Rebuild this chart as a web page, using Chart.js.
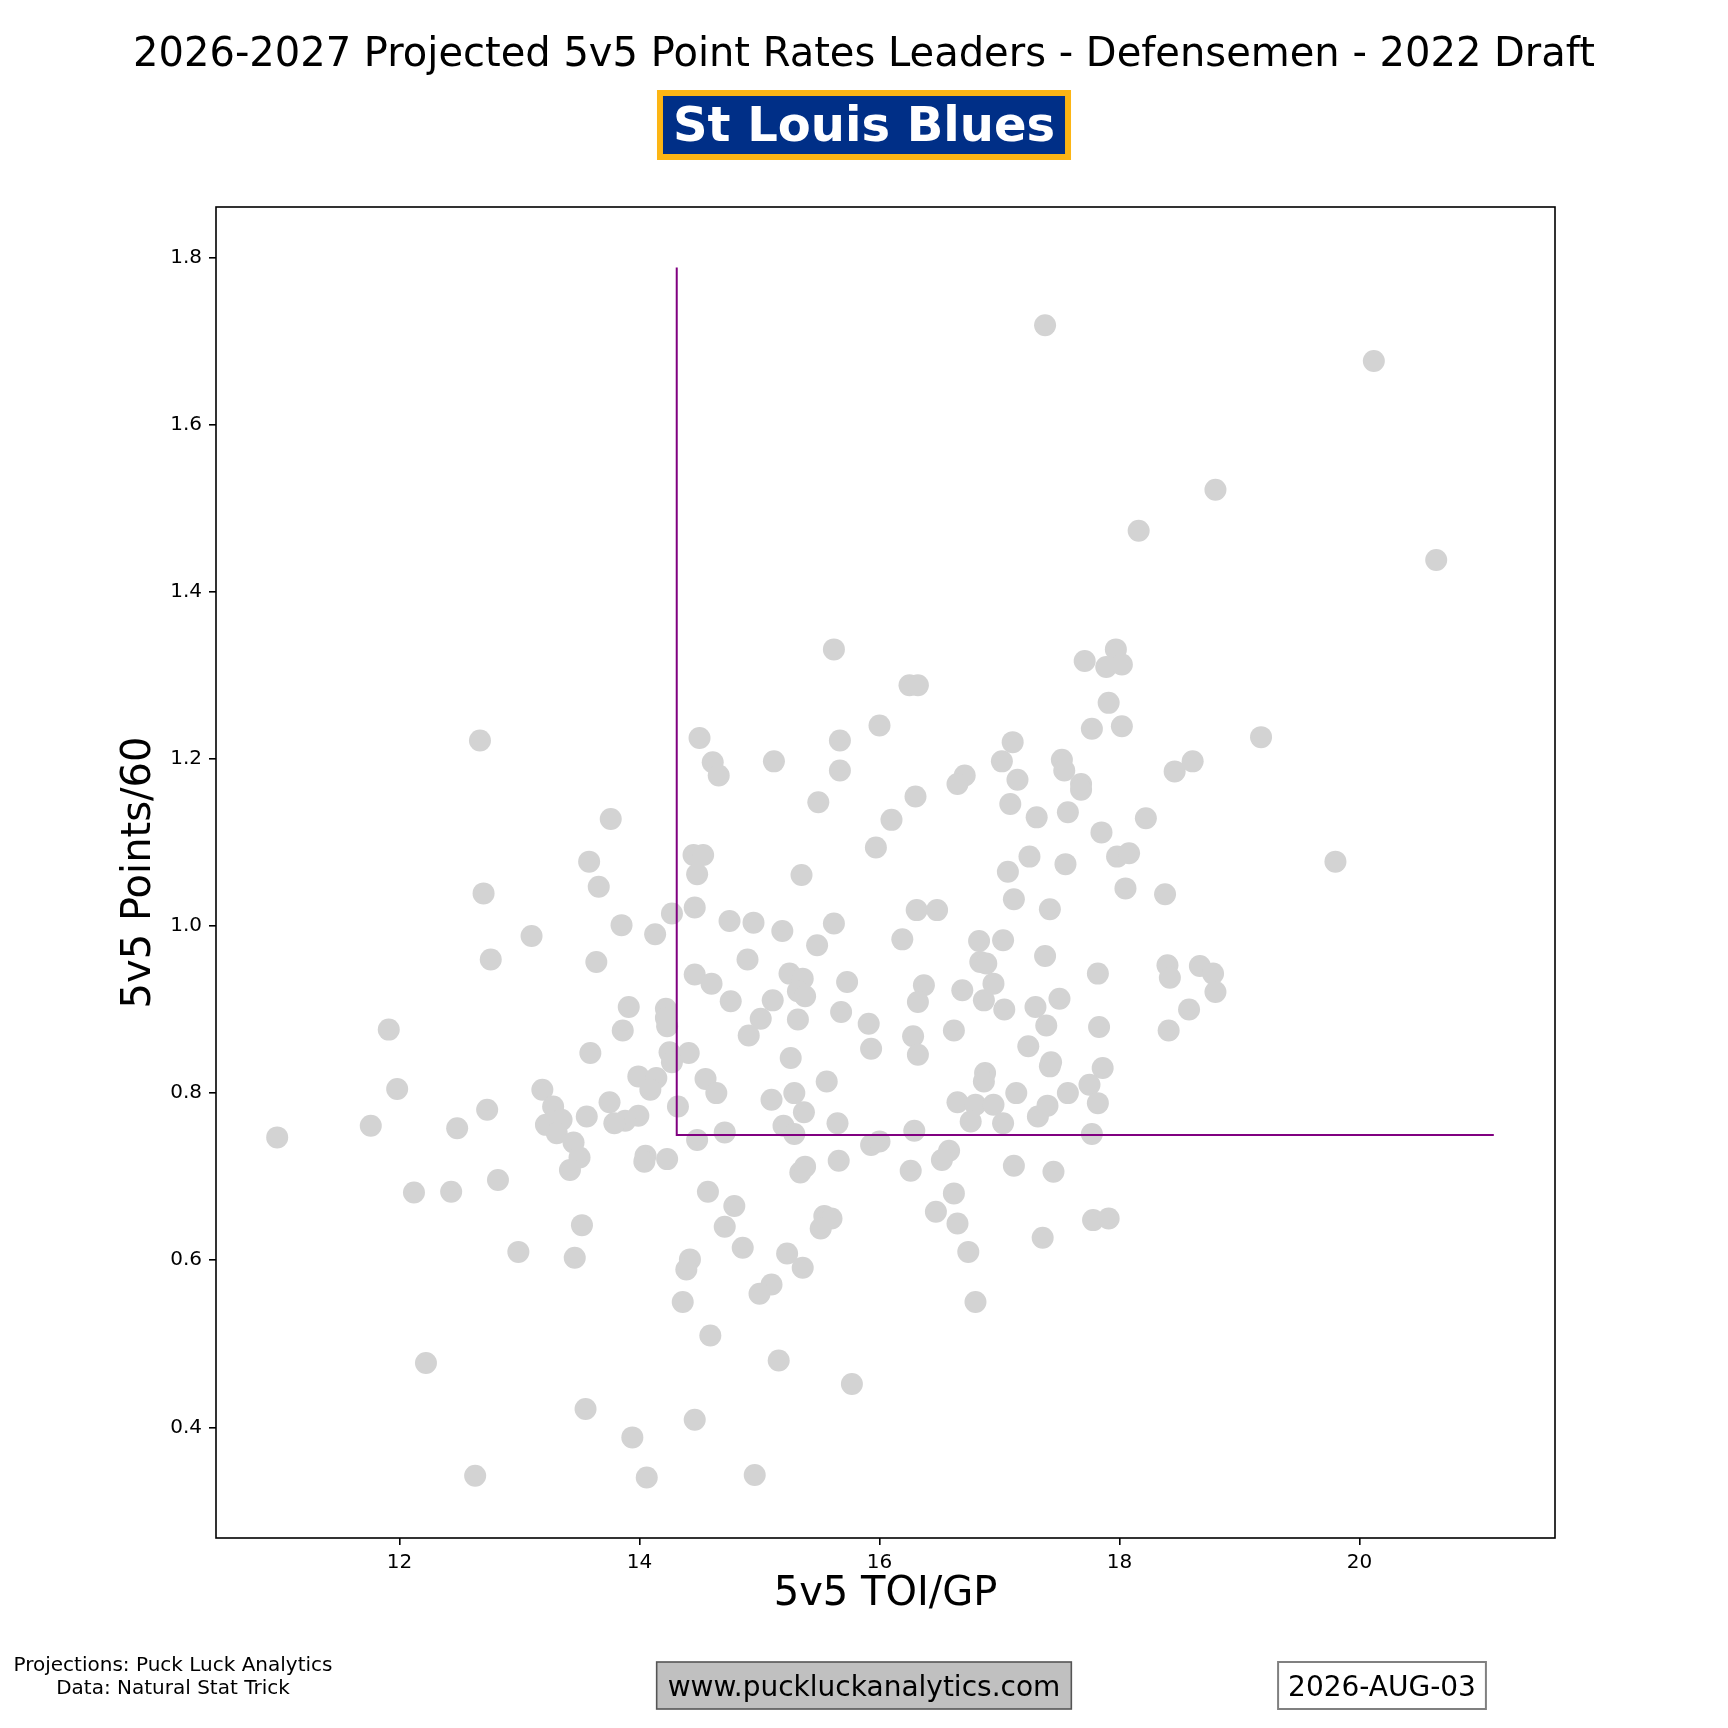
<!DOCTYPE html>
<html>
<head>
<meta charset="utf-8">
<script src="https://cdn.jsdelivr.net/npm/chart.js@4.4.1/dist/chart.umd.min.js"></script>
<style>
html,body{margin:0;padding:0;background:#fff;overflow:hidden}
canvas{display:block}
</style>
</head>
<body>
<canvas id="c" width="1728" height="1728" style="width:1728px;height:1728px"></canvas>
<script>
// ---------- data ----------
const titleText = "2026-2027 Projected 5v5 Point Rates Leaders - Defensemen - 2022 Draft";
const teamName = "St Louis Blues";
const xAxisLabel = "5v5 TOI/GP";
const yAxisLabel = "5v5 Points/60";
const footerLines = ["Projections: Puck Luck Analytics", "Data: Natural Stat Trick"];
const siteText = "www.puckluckanalytics.com";
const dateText = "2026-AUG-03";

const toiPerGP = [
  17.38, 20.12, 18.80, 18.16, 20.64,
  12.67, 13.76, 13.58,
  15.62, 16.25, 16.32, 16.00, 14.50, 14.61, 14.66, 15.12, 15.67, 15.67, 15.49, 16.30,
  16.10, 15.97, 14.45, 14.53, 14.48, 15.35, 16.71, 16.65, 17.11, 17.02, 17.15, 17.09,
  17.31, 17.25, 17.07,
  17.97, 17.71, 17.89, 18.02, 17.91, 17.77, 18.02, 19.18, 17.52, 17.54, 17.68, 17.68,
  18.46, 18.61, 17.57, 18.22, 17.85, 17.98, 18.08, 17.55, 19.80,
  12.70, 13.66, 13.85, 14.13, 13.10, 12.76, 13.64, 13.91, 14.22, 14.22, 14.23, 13.86,
  11.91, 13.59, 11.98, 13.19, 13.99, 14.14, 14.09, 13.75, 13.28, 12.73, 13.35, 13.56,
  13.99, 13.88, 13.79, 13.22, 13.31, 11.76, 10.98, 12.48, 13.45, 13.50, 13.42, 14.05,
  14.04, 12.82,
  14.27, 14.46, 14.75, 14.95, 15.19, 15.62, 15.48, 16.31, 16.48, 16.19, 17.12, 17.42,
  16.83, 17.03, 17.38, 16.84, 16.89, 14.90, 14.46, 14.60, 15.25, 15.36, 15.32, 15.38,
  15.73, 15.11, 14.76, 15.68, 16.37, 16.32, 16.69, 16.95, 16.87, 17.04, 17.30, 17.39,
  17.50, 15.01, 14.91, 15.32, 15.91, 15.93, 16.28, 16.32, 16.62, 17.24, 17.42, 17.43,
  14.41, 14.25, 14.27, 15.26, 15.56, 14.55, 14.64, 14.32, 15.10, 15.29, 15.37, 16.88,
  16.87, 16.65, 16.80, 16.95, 16.76, 17.03, 17.14, 17.32, 17.40, 15.65, 15.20, 15.29,
  14.71, 16.29, 14.48, 14.23, 15.93, 16.00, 15.66, 15.34, 15.38, 16.58, 16.52, 17.12,
  16.26, 17.45,
  18.05, 18.38, 17.82, 18.40, 18.42, 18.67, 18.78, 18.80, 18.58, 18.41, 17.83, 17.86,
  17.75, 17.57, 17.82, 17.77,
  12.12, 12.43, 13.52, 12.99, 13.46, 12.22, 13.55, 13.94, 12.63, 14.06,
  14.57, 14.79, 14.71, 14.86, 14.42, 14.39, 14.36, 14.59, 14.46, 14.96, 15.54, 15.60,
  15.51, 15.23, 15.36, 15.10, 15.00, 15.16, 15.77, 16.62, 16.47, 16.65, 16.74, 16.80,
  17.36, 17.78, 17.91
];
const pointsPer60 = [
  1.719, 1.676, 1.522, 1.473, 1.438,
  1.222, 1.128, 1.077,
  1.331, 1.288, 1.288, 1.240, 1.225, 1.196, 1.180, 1.197, 1.222, 1.186, 1.148, 1.155,
  1.127, 1.094, 1.085, 1.085, 1.062, 1.061, 1.180, 1.170, 1.220, 1.197, 1.175, 1.146,
  1.130, 1.083, 1.065,
  1.331, 1.317, 1.310, 1.313, 1.267, 1.236, 1.239, 1.226, 1.199, 1.186, 1.170, 1.163,
  1.185, 1.197, 1.136, 1.129, 1.112, 1.083, 1.087, 1.074, 1.077,
  1.039, 1.047, 1.001, 0.990, 0.988, 0.960, 0.957, 0.903, 0.901, 0.890, 0.880, 0.875,
  0.876, 0.848, 0.805, 0.804, 0.820, 0.818, 0.804, 0.789, 0.784, 0.780, 0.768, 0.772,
  0.773, 0.767, 0.764, 0.762, 0.752, 0.761, 0.747, 0.758, 0.741, 0.723, 0.708, 0.725,
  0.718, 0.696,
  1.015, 1.022, 1.006, 1.004, 0.994, 1.003, 0.977, 1.019, 1.019, 0.984, 1.032, 1.020,
  0.982, 0.983, 0.964, 0.957, 0.955, 0.960, 0.942, 0.931, 0.943, 0.937, 0.922, 0.916,
  0.933, 0.911, 0.910, 0.897, 0.929, 0.909, 0.923, 0.931, 0.911, 0.900, 0.903, 0.881,
  0.913, 0.889, 0.869, 0.888, 0.883, 0.853, 0.868, 0.846, 0.875, 0.856, 0.832, 0.837,
  0.848, 0.849, 0.837, 0.842, 0.814, 0.817, 0.800, 0.784, 0.792, 0.800, 0.777, 0.824,
  0.814, 0.789, 0.786, 0.786, 0.766, 0.764, 0.800, 0.772, 0.785, 0.764, 0.761, 0.751,
  0.753, 0.755, 0.744, 0.721, 0.738, 0.742, 0.719, 0.705, 0.712, 0.731, 0.720, 0.713,
  0.707, 0.706,
  1.045, 1.038, 0.943, 0.953, 0.938, 0.952, 0.943, 0.921, 0.900, 0.875, 0.879, 0.830,
  0.810, 0.800, 0.788, 0.751,
  0.681, 0.682, 0.642, 0.610, 0.603, 0.477, 0.422, 0.388, 0.342, 0.340,
  0.682, 0.665, 0.640, 0.615, 0.601, 0.589, 0.550, 0.510, 0.409, 0.343, 0.653, 0.650,
  0.638, 0.608, 0.591, 0.571, 0.560, 0.480, 0.452, 0.680, 0.658, 0.644, 0.610, 0.550,
  0.627, 0.648, 0.650
];
// guide lines (threshold corner)
const guideX = [14.31, 14.31, 21.12];
const guideY = [1.788, 0.75, 0.75];

const xTicks = [12, 14, 16, 18, 20];
const yTicks = [0.4, 0.6, 0.8, 1.0, 1.2, 1.4, 1.6, 1.8];
const xRange = [10.47, 21.63];
const yRange = [0.2676, 1.8604];

// ---------- build ----------
const FONT = "'DejaVu Sans', sans-serif";
const points = toiPerGP.map((x, i) => ({ x: x, y: pointsPer60[i] }));
const guide = guideX.map((x, i) => ({ x: x, y: guideY[i] }));

const decorations = {
  id: 'decorations',
  afterDraw(chart) {
    const ctx = chart.ctx;
    const a = chart.chartArea;
    ctx.save();
    // frame
    ctx.strokeStyle = '#000';
    ctx.lineWidth = 1.6;
    ctx.strokeRect(a.left, a.top, a.right - a.left, a.bottom - a.top);

    const cx = chart.width / 2;
    // title
    ctx.fillStyle = '#000';
    ctx.textAlign = 'center';
    ctx.textBaseline = 'alphabetic';
    ctx.font = '40px ' + FONT;
    ctx.fillText(titleText, cx, 66);

    // team box
    ctx.font = 'bold 48px ' + FONT;
    const tw = ctx.measureText(teamName).width;
    const bw = tw + 26, bh = 64;
    const bx = cx - bw / 2, by = 93;
    ctx.fillStyle = '#002F87';
    ctx.fillRect(bx, by, bw, bh);
    ctx.strokeStyle = '#FCB514';
    ctx.lineWidth = 6;
    ctx.strokeRect(bx, by, bw, bh);
    ctx.fillStyle = '#fff';
    ctx.fillText(teamName, cx, 141);

    // footer left
    ctx.fillStyle = '#000';
    ctx.font = '20px ' + FONT;
    ctx.fillText(footerLines[0], 173, 1671);
    ctx.fillText(footerLines[1], 173, 1694);

    // site box
    ctx.font = '28px ' + FONT;
    const sw = ctx.measureText(siteText).width;
    const sbw = sw + 22, sbh = 47;
    ctx.fillStyle = '#C0C0C0';
    ctx.fillRect(cx - sbw / 2, 1662, sbw, sbh);
    ctx.strokeStyle = '#555';
    ctx.lineWidth = 1.6;
    ctx.strokeRect(cx - sbw / 2, 1662, sbw, sbh);
    ctx.fillStyle = '#000';
    ctx.fillText(siteText, cx, 1696);

    // date box
    const dx = 1382;
    const dw = ctx.measureText(dateText).width;
    const dbw = dw + 20, dbh = 47;
    ctx.fillStyle = '#fff';
    ctx.fillRect(dx - dbw / 2, 1662, dbw, dbh);
    ctx.strokeStyle = '#808080';
    ctx.lineWidth = 2;
    ctx.strokeRect(dx - dbw / 2, 1662, dbw, dbh);
    ctx.fillStyle = '#000';
    ctx.fillText(dateText, dx, 1696);
    ctx.restore();
  }
};

new Chart(document.getElementById('c'), {
  type: 'scatter',
  data: {
    datasets: [
      {
        label: 'guide',
        data: guide,
        showLine: true,
        borderColor: '#800080',
        borderWidth: 2,
        pointRadius: 0,
        fill: false,
        order: 0
      },
      {
        label: 'players',
        data: points,
        backgroundColor: '#D3D3D3',
        borderColor: '#D3D3D3',
        borderWidth: 0,
        pointRadius: 11,
        order: 1
      }
    ]
  },
  options: {
    responsive: false,
    animation: false,
    devicePixelRatio: 1,
    events: [],
    layout: { padding: { top: 207, right: 173, left: 0, bottom: 0 } },
    plugins: { legend: { display: false }, tooltip: { enabled: false }, title: { display: false } },
    scales: {
      x: {
        type: 'linear',
        min: xRange[0],
        max: xRange[1],
        afterFit(s) { s.height = 190; },
        afterBuildTicks(s) { s.ticks = xTicks.map(v => ({ value: v })); },
        grid: { display: true, drawOnChartArea: false, drawTicks: true, tickLength: 7, color: '#000', lineWidth: 1.6 },
        border: { display: false },
        ticks: { color: '#000', font: { family: FONT, size: 20 }, padding: 6, maxRotation: 0, callback: v => String(v) },
        title: { display: true, text: xAxisLabel, color: '#000', font: { family: FONT, size: 40 }, padding: { bottom: 109, top: 0 } }
      },
      y: {
        type: 'linear',
        min: yRange[0],
        max: yRange[1],
        afterFit(s) { s.width = 216; },
        afterBuildTicks(s) { s.ticks = yTicks.map(v => ({ value: v })); },
        grid: { display: true, drawOnChartArea: false, drawTicks: true, tickLength: 7, color: '#000', lineWidth: 1.6 },
        border: { display: false },
        ticks: { color: '#000', font: { family: FONT, size: 20 }, padding: 7, callback: v => Number(v).toFixed(1) },
        title: { display: true, text: yAxisLabel, color: '#000', font: { family: FONT, size: 40 }, padding: { top: 116, bottom: 0 } }
      }
    }
  },
  plugins: [decorations]
});
</script>
</body>
</html>
